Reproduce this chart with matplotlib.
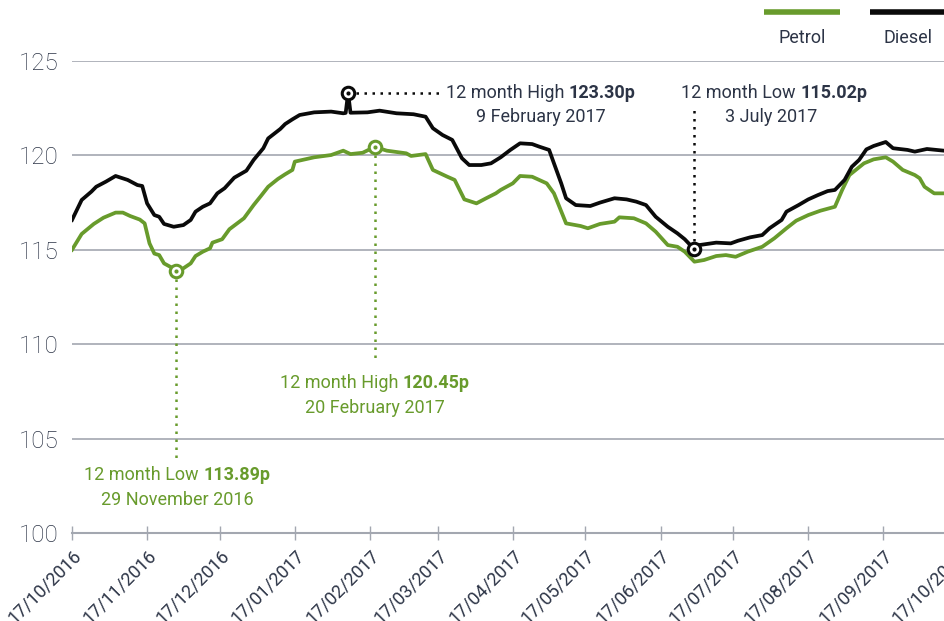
import numpy as np
import matplotlib
matplotlib.use("Agg")
import matplotlib.pyplot as plt
from matplotlib.lines import Line2D
from matplotlib.transforms import offset_copy

# ---------------- data ----------------
start_date = "2016-10-17"
end_date = "2017-10-17"

petrol_days = [0, 4, 9, 13, 18, 21, 24, 28, 30, 32, 34, 36, 38, 41, 43, 46, 49, 51, 54, 57,
               58, 62, 65, 71, 75, 78, 81, 85, 88, 91, 92, 100, 107, 112, 115, 120, 125, 130,
               138, 140, 146, 149, 155, 158, 162, 167, 171, 175, 177, 182, 185, 190, 196, 199,
               204, 210, 213, 218, 224, 226, 232, 237, 241, 246, 250, 253, 257, 261, 266, 270,
               274, 279, 285, 290, 295, 299, 304, 309, 315, 318, 321, 327, 331, 336, 339, 343,
               348, 350, 352, 356, 360]
petrol_vals = [115.0, 115.84, 116.37, 116.70, 116.97, 116.97, 116.79, 116.6, 116.4, 115.34,
               114.8, 114.72, 114.28, 114.07, 113.89, 114.02, 114.28, 114.67, 114.9, 115.08,
               115.38, 115.56, 116.09, 116.67, 117.37, 117.85, 118.34, 118.75, 119.0, 119.23,
               119.67, 119.9, 120.02, 120.25, 120.07, 120.14, 120.45, 120.25, 120.11, 119.97,
               120.07, 119.23, 118.87, 118.7, 117.67, 117.46, 117.73, 117.99, 118.17, 118.52,
               118.91, 118.87, 118.52, 117.99, 116.40, 116.26, 116.14, 116.37, 116.49, 116.72,
               116.67, 116.4, 115.96, 115.25, 115.16, 114.9, 114.37, 114.46, 114.67, 114.72,
               114.63, 114.9, 115.16, 115.61, 116.14, 116.54, 116.84, 117.07, 117.28, 118.17,
               118.96, 119.58, 119.79, 119.9, 119.67, 119.23, 118.96, 118.79, 118.34, 117.99,
               117.99]

diesel_days = [0, 4, 8, 10, 14, 18, 23, 27, 29, 31, 34, 36, 38, 42, 46, 49, 51, 54, 57, 60,
               63, 67, 72, 75, 79, 81, 86, 88, 91, 94, 100, 107, 112, 113, 114, 115, 122, 127,
               134, 141, 146, 149, 153, 157, 161, 164, 169, 173, 177, 181, 185, 190, 193, 197,
               199, 202, 204, 208, 214, 218, 224, 229, 233, 237, 241, 246, 250, 253, 257, 259,
               266, 272, 275, 280, 285, 288, 293, 295, 300, 304, 308, 312, 315, 319, 322, 325,
               328, 331, 336, 339, 345, 348, 353, 360]
diesel_vals = [116.58, 117.64, 118.08, 118.34, 118.61, 118.91, 118.7, 118.43, 118.38, 117.46,
               116.84, 116.75, 116.37, 116.22, 116.31, 116.58, 117.02, 117.28, 117.46, 117.99,
               118.26, 118.82, 119.19, 119.76, 120.38, 120.9, 121.4, 121.66, 121.91, 122.14,
               122.28, 122.32, 122.23, 122.25, 123.30, 122.26, 122.28, 122.37, 122.23, 122.18,
               122.05, 121.44, 121.08, 120.82, 119.85, 119.49, 119.49, 119.58, 119.9, 120.29,
               120.64, 120.6, 120.46, 120.29, 119.58, 118.52, 117.73, 117.37, 117.32, 117.5,
               117.73, 117.67, 117.55, 117.37, 116.75, 116.22, 115.87, 115.56, 115.02, 115.25,
               115.38, 115.34, 115.48, 115.66, 115.78, 116.14, 116.58, 117.02, 117.37, 117.67,
               117.9, 118.11, 118.17, 118.7, 119.4, 119.76, 120.32, 120.5, 120.71, 120.38,
               120.29, 120.2, 120.34, 120.25]

tick_labels = ["17/10/2016", "17/11/2016", "17/12/2016", "17/01/2017", "17/02/2017",
               "17/03/2017", "17/04/2017", "17/05/2017", "17/06/2017", "17/07/2017",
               "17/08/2017", "17/09/2017", "17/10/2017"]
tick_dates = ["2016-10-17", "2016-11-17", "2016-12-17", "2017-01-17", "2017-02-17",
              "2017-03-17", "2017-04-17", "2017-05-17", "2017-06-17", "2017-07-17",
              "2017-08-17", "2017-09-17", "2017-10-17"]
y_ticks = [100, 105, 110, 115, 120, 125]

# annotated extremes: (day offset, value, label text, date text)
petrol_low = (43, 113.89, "113.89p", "29 November 2016")
petrol_high = (125, 120.45, "120.45p", "20 February 2017")
diesel_high = (114, 123.30, "123.30p", "9 February 2017")
diesel_low = (257, 115.02, "115.02p", "3 July 2017")

# ---------------- style ----------------
GREEN = "#689b2c"
BLACK = "#0a0a0a"
NAVY = "#2c3446"
GRID = "#a3a7b0"
FONT = ["Roboto", "DejaVu Sans"]

plt.rcParams["font.family"] = FONT

base = np.datetime64(start_date, "h")
def d(days):
    hrs = np.round(np.asarray(days, dtype=float) * 24).astype(np.int64)
    return base + hrs.astype("timedelta64[h]")

fig = plt.figure(figsize=(9.44, 6.21), dpi=100)
ax = fig.add_axes([72 / 944, 88 / 621, 884 / 944, 472 / 621])

ax.set_xlim(np.datetime64(start_date, "h"), np.datetime64(end_date, "h"))
ax.set_ylim(100, 125)

for yv in y_ticks[1:]:
    ax.axhline(yv, color=GRID, lw=1.2, zorder=1)

ax.plot(d(petrol_days), petrol_vals, color=GREEN, lw=2.7, zorder=3, solid_joinstyle="round")
ax.plot(d(diesel_days), diesel_vals, color=BLACK, lw=2.7, zorder=4, solid_joinstyle="round")

for s in ["top", "right", "left"]:
    ax.spines[s].set_visible(False)
ax.spines["bottom"].set_color(GRID)
ax.spines["bottom"].set_linewidth(1.5)

ax.set_yticks(y_ticks)
ax.set_yticklabels([str(v) for v in y_ticks], fontsize=17.5, color=NAVY, fontweight="light")
ax.tick_params(axis="y", length=0, pad=10)

ax.set_xticks(np.array(tick_dates, dtype="datetime64[h]"))
ax.set_xticklabels(tick_labels, rotation=45, ha="right", va="top", rotation_mode="anchor",
                   fontsize=13, color=NAVY, fontweight="normal")
ax.tick_params(axis="x", direction="inout", length=10, width=1, color=GRID, pad=5)

# ---------------- annotations ----------------
def two_part(xday, yval, regular, bold, color, fs=13):
    xd = d([xday])[0]
    t1 = ax.text(xd, yval, regular, ha="left", va="center", fontsize=fs, color=color,
                 fontweight="normal", zorder=6)
    t2 = ax.text(xd, yval, bold, ha="left", va="center", fontsize=fs, color=color,
                 fontweight="bold", zorder=6)
    r = fig.canvas.get_renderer()
    w1 = t1.get_window_extent(r).width
    w2 = t2.get_window_extent(r).width
    gap = 4.5
    total = w1 + gap + w2
    t1.set_transform(offset_copy(ax.transData, fig=fig, x=-total / 2, y=0, units="dots"))
    t2.set_transform(offset_copy(ax.transData, fig=fig, x=-total / 2 + w1 + gap, y=0, units="dots"))

def date_line(xday, yval, text, color, fs=13):
    ax.text(d([xday])[0], yval, text, ha="center", va="center", fontsize=fs, color=color,
            fontweight="normal", zorder=6)

def marker(day, val, color):
    ax.plot(d([day]), [val], marker="o", ms=9, mfc="white", mec=color, mew=2.2, zorder=7)
    ax.plot(d([day]), [val], marker="o", ms=3, mfc=color, mec=color, mew=0, zorder=8)

dot_kw = dict(lw=1.8, linestyle=(0, (1, 2.2)), zorder=5)

# Diesel high
dh_day, dh_val, dh_lab, dh_date = diesel_high
ax.plot(d([dh_day, 152]), [dh_val, dh_val], color=BLACK, **dot_kw)
marker(dh_day, dh_val, BLACK)
two_part(193.5, 123.31, "12 month High", dh_lab, NAVY)
date_line(193.5, 122.03, dh_date, NAVY)

# Diesel low
dl_day, dl_val, dl_lab, dl_date = diesel_low
ax.plot(d([dl_day, dl_day]), [dl_val, 122.4], color=BLACK, **dot_kw)
marker(dl_day, dl_val, BLACK)
two_part(290, 123.31, "12 month Low", dl_lab, NAVY)
date_line(288.7, 122.03, dl_date, NAVY)

# Petrol high
ph_day, ph_val, ph_lab, ph_date = petrol_high
ax.plot(d([ph_day, ph_day]), [ph_val, 109.11], color=GREEN, **dot_kw)
marker(ph_day, ph_val, GREEN)
two_part(125, 107.95, "12 month High", ph_lab, GREEN)
date_line(125, 106.62, ph_date, GREEN)

# Petrol low
pl_day, pl_val, pl_lab, pl_date = petrol_low
ax.plot(d([pl_day, pl_day]), [pl_val, 103.97], color=GREEN, **dot_kw)
marker(pl_day, pl_val, GREEN)
two_part(43.4, 103.07, "12 month Low", pl_lab, GREEN)
date_line(43.4, 101.75, pl_date, GREEN)

# ---------------- legend (manual) ----------------
fig.add_artist(Line2D([764 / 944, 840 / 944], [1 - 12 / 621, 1 - 12 / 621],
                      color=GREEN, lw=4, solid_capstyle="butt"))
fig.add_artist(Line2D([870 / 944, 950 / 944], [1 - 12 / 621, 1 - 12 / 621],
                      color=BLACK, lw=4, solid_capstyle="butt"))
fig.text(802 / 944, 1 - 38 / 621, "Petrol", ha="center", va="center", fontsize=13,
         color=NAVY, fontweight="normal")
fig.text(908 / 944, 1 - 38 / 621, "Diesel", ha="center", va="center", fontsize=13,
         color=NAVY, fontweight="normal")

fig.savefig("out.png", dpi=100)
